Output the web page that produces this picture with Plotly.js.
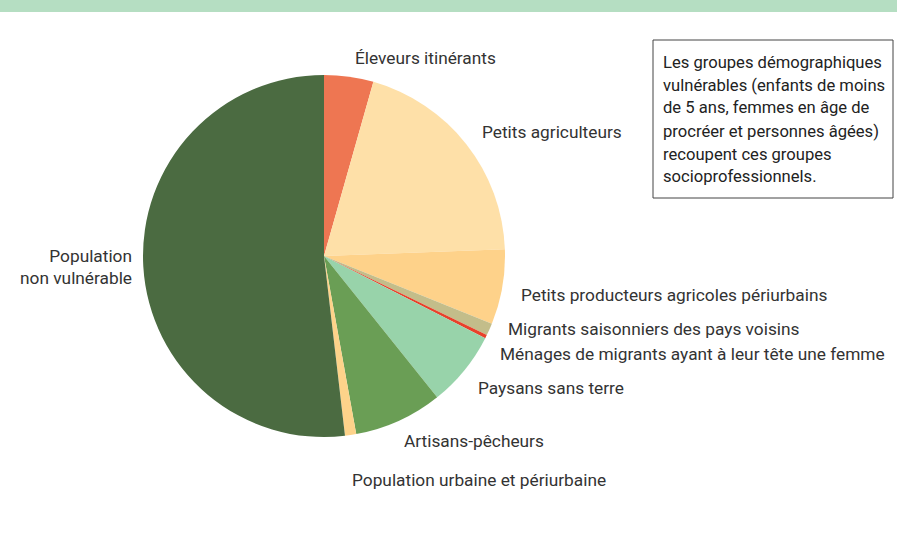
<!DOCTYPE html>
<html>
<head>
<meta charset="utf-8">
<script src="https://cdn.plot.ly/plotly-3.0.1.min.js"></script>
<style>html,body{margin:0;padding:0;background:#fff;}#chart{width:897px;height:546px;}</style>
</head>
<body>
<div id="chart"></div>
<script>
const categories = [
  "Éleveurs itinérants",
  "Petits agriculteurs",
  "Petits producteurs agricoles périurbains",
  "Migrants saisonniers des pays voisins",
  "Ménages de migrants ayant à leur tête une femme",
  "Paysans sans terre",
  "Artisans-pêcheurs",
  "Population urbaine et périurbaine",
  "Population<br>non vulnérable"
];
const values = [4.4, 20.0, 6.7, 1.1, 0.3, 6.75, 7.9, 1.0, 51.85];
const colors = ["#ee7652", "#fee0a8", "#fed28a", "#c3bd8a", "#e8412a", "#98d3aa", "#6a9e55", "#fdd38a", "#4b6b41"];
const noteLines = [
  "Les groupes démographiques",
  "vulnérables (enfants de moins",
  "de 5 ans, femmes en âge de",
  "procréer et personnes âgées)",
  "recoupent ces groupes",
  "socioprofessionnels."
];

// label placement in pixels: [x, y, xanchor]
const labelPos = [
  [425, 58, "center"],
  [480, 132, "left"],
  [519, 295, "left"],
  [506, 329, "left"],
  [498, 354, "left"],
  [476, 388, "left"],
  [402, 441, "left"],
  [350, 480, "left"],
  [134, 267, "right"]
];

const W = 897, H = 546;
const px = x => x / W;
const py = y => 1 - y / H;

const annotations = categories.map((c, i) => ({
  text: c, x: px(labelPos[i][0]), y: py(labelPos[i][1]),
  xref: "paper", yref: "paper", xanchor: labelPos[i][2], yanchor: "middle",
  align: labelPos[i][2] === "right" ? "right" : "left",
  showarrow: false,
  font: {family: "Roboto, sans-serif", size: 17.3, color: "#333333"}
}));
noteLines.forEach((t, i) => annotations.push({
  text: t, x: px(661), y: py(62 + i * 23), xref: "paper", yref: "paper",
  xanchor: "left", yanchor: "middle", showarrow: false,
  font: {family: "Roboto, sans-serif", size: 16.6, color: "#222222"}
}));

const cx = 324, cy = 256, r = 181;
const data = [{
  type: "pie",
  labels: categories,
  values: values,
  sort: false,
  direction: "clockwise",
  rotation: 0,
  textinfo: "none",
  hoverinfo: "label+percent",
  marker: {colors: colors, line: {width: 0}},
  domain: {x: [px(cx - r), px(cx + r)], y: [py(cy + r), py(cy - r)]}
}];

const layout = {
  width: W, height: H,
  margin: {l: 0, r: 0, t: 0, b: 0},
  showlegend: false,
  paper_bgcolor: "#ffffff",
  annotations: annotations,
  shapes: [
    {type: "rect", xref: "paper", yref: "paper", x0: 0, x1: 1, y0: py(12), y1: 1,
     fillcolor: "#b5dec2", line: {width: 0}, layer: "below"},
    {type: "rect", xref: "paper", yref: "paper", x0: px(653), x1: px(893), y0: py(198), y1: py(40),
     fillcolor: "rgba(0,0,0,0)", line: {color: "#444444", width: 1}}
  ]
};

Plotly.newPlot("chart", data, layout, {displayModeBar: false, staticPlot: true});
</script>
</body>
</html>
